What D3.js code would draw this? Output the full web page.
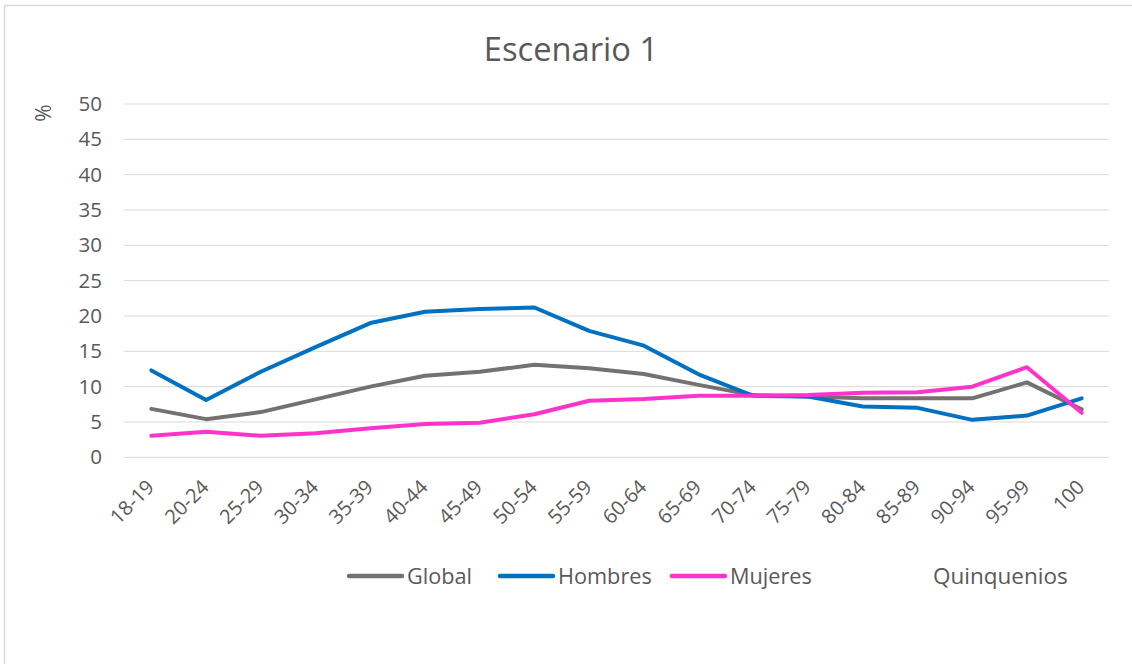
<!DOCTYPE html>
<html>
<head>
<meta charset="utf-8">
<script src="https://cdn.jsdelivr.net/npm/d3@7"></script>
<style>
  html, body { margin: 0; padding: 0; background: #fff; }
  svg { display: block; }
  text { font-family: "Open Sans", "Noto Sans", sans-serif; fill: #595959; }
</style>
</head>
<body>
<svg id="chart" width="1132" height="664"></svg>
<script>
// Age groups (quinquenios) and share (%) per group
const categories = ["18-19","20-24","25-29","30-34","35-39","40-44","45-49","50-54","55-59",
                    "60-64","65-69","70-74","75-79","80-84","85-89","90-94","95-99","100"];
const globalValues  = [6.85, 5.4, 6.4, 8.2, 10.0, 11.55, 12.1, 13.1, 12.6, 11.8, 10.25, 8.8, 8.6, 8.35, 8.35, 8.35, 10.6, 6.8];
const hombresValues = [12.3, 8.1, 12.1, 15.6, 19.0, 20.6, 21.0, 21.2, 17.9, 15.8, 11.75, 8.7, 8.6, 7.2, 7.0, 5.3, 5.9, 8.35];
const mujeresValues = [3.05, 3.6, 3.05, 3.4, 4.1, 4.7, 4.9, 6.1, 8.0, 8.25, 8.7, 8.7, 8.8, 9.15, 9.2, 10.0, 12.75, 6.3];
const yTicks = [0, 5, 10, 15, 20, 25, 30, 35, 40, 45, 50];

const seriesNames  = ["Global", "Hombres", "Mujeres"];
const seriesValues = [globalValues, hombresValues, mujeresValues];
const seriesColors = ["#767171", "#0070C0", "#FF33CC"];

const FONT = "'Open Sans', 'Noto Sans', sans-serif";
const svg = d3.select("#chart");

// chart frame
svg.append("rect")
  .attr("x", 4.5).attr("y", 5.5)
  .attr("width", 1200).attr("height", 700)
  .attr("fill", "#fff")
  .attr("stroke", "#d9d9d9").attr("stroke-width", 1.5);

const plot = { left: 124, right: 1109, top: 104, bottom: 457.3 };

const x = d3.scaleBand().domain(categories).range([plot.left, plot.right]);
const y = d3.scaleLinear().domain([0, 50]).range([plot.bottom, plot.top]);
const cx = c => x(c) + x.bandwidth() / 2;

// gridlines
svg.append("g")
  .selectAll("line")
  .data(yTicks)
  .join("line")
  .attr("x1", plot.left).attr("x2", plot.right)
  .attr("y1", d => y(d)).attr("y2", d => y(d))
  .attr("stroke", "#d9d9d9").attr("stroke-width", 1);

// y axis labels
const yAxis = svg.append("g")
  .attr("transform", `translate(${plot.left - 22},0)`)
  .call(d3.axisLeft(y).tickValues(yTicks).tickSize(0).tickPadding(0));
yAxis.select(".domain").remove();
yAxis.selectAll("text")
  .attr("font-size", 20.5)
  .attr("font-family", FONT)
  .attr("fill", "#595959");

// x axis labels, rotated
const xAxis = svg.append("g")
  .attr("transform", `translate(0,${plot.bottom})`)
  .call(d3.axisBottom(x).tickSize(0).tickPadding(0));
xAxis.select(".domain").remove();
xAxis.selectAll("text")
  .attr("font-size", 20)
  .attr("font-family", FONT)
  .attr("fill", "#595959")
  .attr("text-anchor", "end")
  .attr("dy", 0)
  .attr("y", 0)
  .attr("transform", "translate(4,31) rotate(-45)");

// series lines
const line = d3.line()
  .x((d, i) => cx(categories[i]))
  .y(d => y(d));

svg.append("g")
  .selectAll("path")
  .data(seriesValues)
  .join("path")
  .attr("d", d => line(d))
  .attr("fill", "none")
  .attr("stroke", (d, i) => seriesColors[i])
  .attr("stroke-width", 4)
  .attr("stroke-linejoin", "round")
  .attr("stroke-linecap", "round");

// title
svg.append("text")
  .attr("x", 571).attr("y", 61)
  .attr("text-anchor", "middle")
  .attr("font-size", 32.7)
  .text("Escenario 1");

// y axis title
svg.append("text")
  .attr("transform", "translate(51,113) rotate(-90)")
  .attr("text-anchor", "middle")
  .attr("font-size", 21)
  .text("%");

// legend
const legendY = 576;
const legendX = [349, 500, 672];
const legend = svg.append("g");
seriesNames.forEach((name, i) => {
  legend.append("line")
    .attr("x1", legendX[i]).attr("x2", legendX[i] + 53)
    .attr("y1", legendY).attr("y2", legendY)
    .attr("stroke", seriesColors[i]).attr("stroke-width", 4.5)
    .attr("stroke-linecap", "round");
  legend.append("text")
    .attr("x", legendX[i] + 58).attr("y", legendY + 7.5)
    .attr("font-size", 21.7)
    .text(name);
});

// x axis title
svg.append("text")
  .attr("x", 933).attr("y", legendY + 7.5)
  .attr("font-size", 22.5)
  .text("Quinquenios");
</script>
</body>
</html>
